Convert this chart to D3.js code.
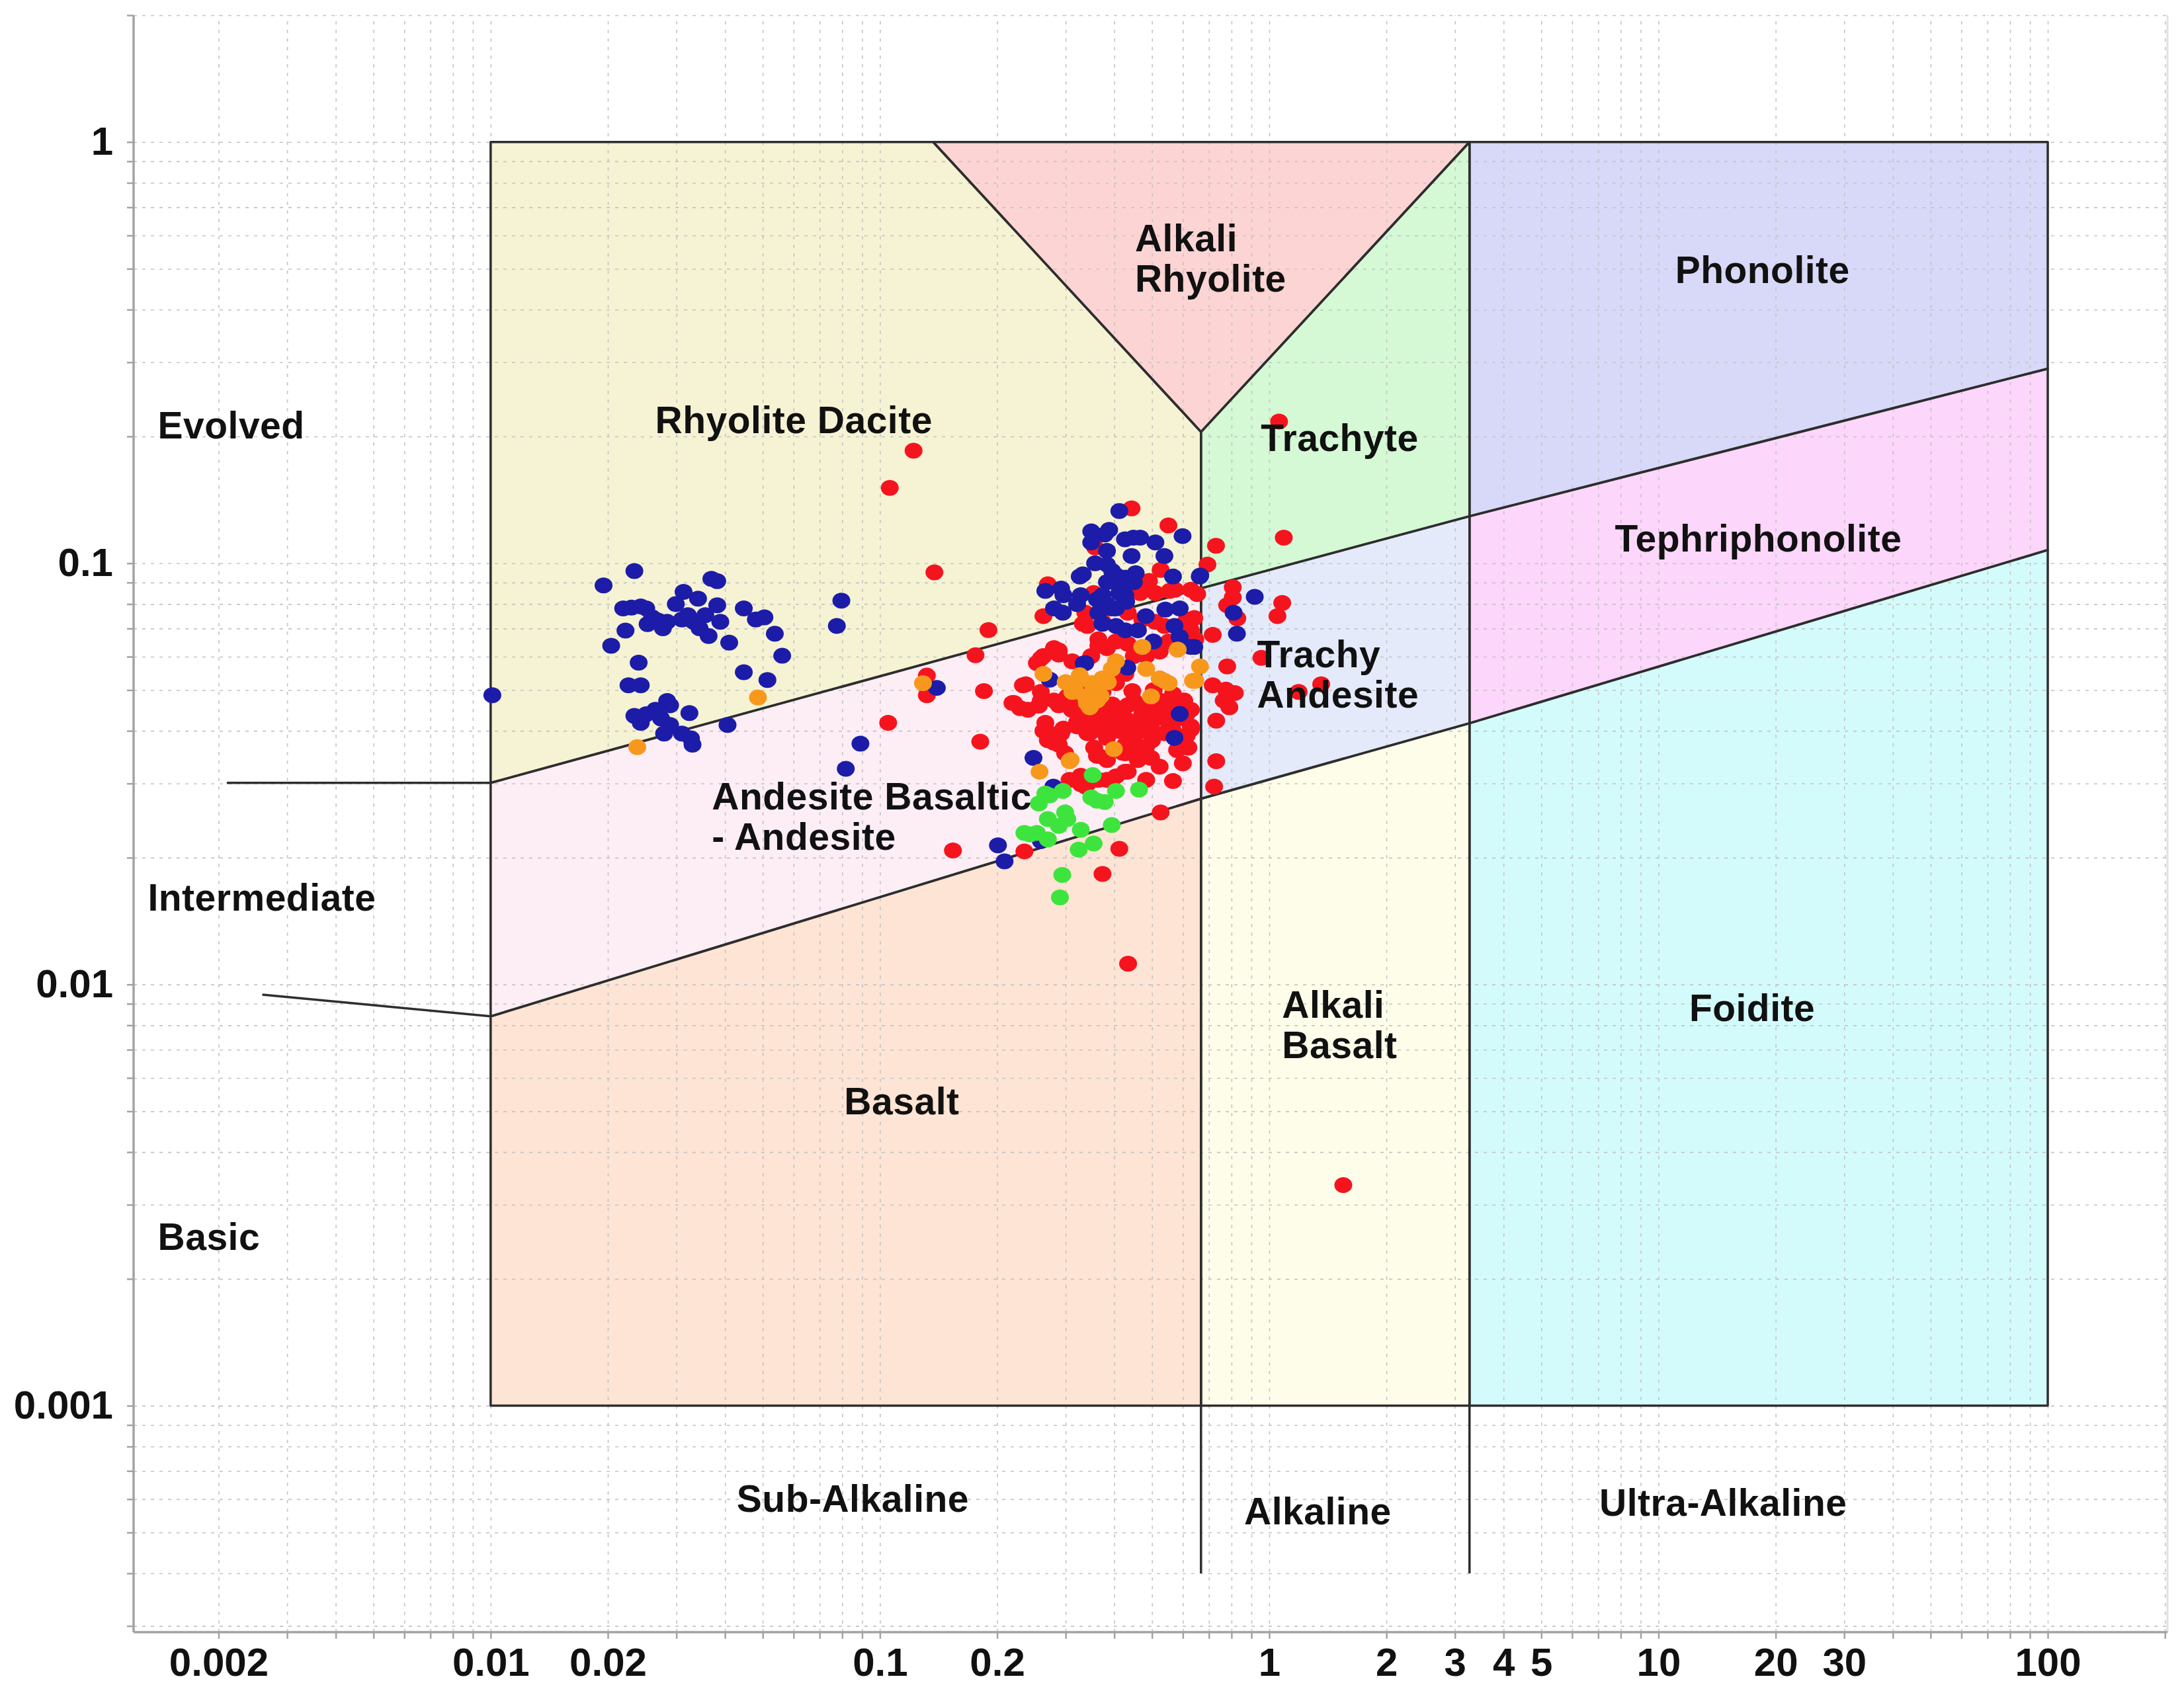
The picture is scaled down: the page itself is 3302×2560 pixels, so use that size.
<!DOCTYPE html>
<html lang="en">
<head>
    <meta charset="UTF-8">
    <title>Nb/Y vs Zr/Ti - Pearce (1996)</title>
    <script src="https://d3js.org/d3.v7.min.js"></script>
    <style>
        body { margin: 0; background: #fff; }
        text { font-family: "Liberation Sans", Arial, sans-serif; fill: #111; }
        .tick-label text { font-size: 60px; font-weight: bold; }
        .field-label { font-size: 57px; font-weight: bold; letter-spacing: 0.5px; }
        .grid line { stroke: #c4c4c4; stroke-width: 1.6; stroke-dasharray: 5 8; }
        .grid .domain { display: none; }
        .axis .domain { stroke: #a3a3a3; stroke-width: 3.5; }
        .axis .tick line { stroke: #a3a3a3; stroke-width: 2.5; }
    </style>
</head>
<body>
<div id="chart"></div>
<script>
    // tick labels shown on the axes
    const xTickLabels = [0.002, 0.01, 0.02, 0.1, 0.2, 1, 2, 3, 4, 5, 10, 20, 30, 100];
    const yTickLabels = [0.001, 0.01, 0.1, 1];

    // boundary lines of the classification fields (Nb/Y, Zr/Ti)
    const upperLine = [[0.01, 0.0301], [0.668, 0.0872], [3.27, 0.1293], [100, 0.2896]];
    const lowerLine = [[0.01, 0.0084], [0.668, 0.0276], [3.27, 0.0417], [100, 0.1075]];
    const apex = [0.668, 0.205];

    // field polygons
    const fields = [
        { name: "Rhyolite Dacite", color: "#f5f3d3", pts: [[0.01, 1], [0.137, 1], apex, upperLine[1], upperLine[0]] },
        { name: "Alkali Rhyolite", color: "#fdd4d4", pts: [[0.137, 1], [3.27, 1], apex] },
        { name: "Trachyte", color: "#d5f8d5", pts: [apex, [3.27, 1], upperLine[2], upperLine[1]] },
        { name: "Phonolite", color: "#d8d8f9", pts: [[3.27, 1], [100, 1], upperLine[3], upperLine[2]] },
        { name: "Andesite", color: "#fdedf5", pts: [upperLine[0], upperLine[1], lowerLine[1], lowerLine[0]] },
        { name: "Trachy Andesite", color: "#e4eafa", pts: [upperLine[1], upperLine[2], lowerLine[2], lowerLine[1]] },
        { name: "Tephriphonolite", color: "#fdd6fb", pts: [upperLine[2], upperLine[3], lowerLine[3], lowerLine[2]] },
        { name: "Basalt", color: "#fde4d4", pts: [lowerLine[0], lowerLine[1], [0.668, 0.001], [0.01, 0.001]] },
        { name: "Alkali Basalt", color: "#fdfdea", pts: [lowerLine[1], lowerLine[2], [3.27, 0.001], [0.668, 0.001]] },
        { name: "Foidite", color: "#d4fbfb", pts: [lowerLine[2], lowerLine[3], [100, 0.001], [3.27, 0.001]] }
    ];

    // extra lines outside the box
    const extraLines = [
        [[0.668, 0.001], [0.668, 0.0004]],
        [[3.27, 0.001], [3.27, 0.0004]],
        [[0.0021, 0.0301], [0.01, 0.0301]],
        [[0.00259, 0.00946], [0.01, 0.0084]]
    ];

    // samples: [Nb/Y, Zr/Ti]
    const redPts = [
        [0.122, 0.185], [0.106, 0.151], [0.138, 0.0951], [1.06, 0.217], [1.09, 0.115], [1.55, 0.00334], [0.434, 0.0112], [0.105, 0.0418],
        [0.190, 0.0694], [0.176, 0.0605], [0.132, 0.0541], [0.132, 0.0486], [0.185, 0.0497], [0.237, 0.0516], [0.181, 0.0377], [0.154, 0.0208],
        [0.235, 0.0207], [0.373, 0.0183], [0.412, 0.0210], [0.526, 0.0256], [0.600, 0.0335], [0.731, 0.0339], [0.722, 0.0295], [0.731, 0.0423],
        [0.566, 0.0304], [0.483, 0.0306], [0.426, 0.0320], [0.383, 0.0306], [0.337, 0.0295], [0.307, 0.0306], [0.292, 0.0394], [0.288, 0.0371],
        [0.365, 0.0349], [0.730, 0.110], [0.694, 0.0993], [0.806, 0.0877], [0.806, 0.0829], [0.780, 0.0795], [1.08, 0.0805], [1.05, 0.0749],
        [0.828, 0.0740], [0.716, 0.0676], [0.955, 0.0596], [0.780, 0.0569], [1.36, 0.0516], [1.19, 0.0495], [0.716, 0.0513], [0.774, 0.0501],
        [0.816, 0.0492], [0.764, 0.0472], [0.790, 0.0455], [0.642, 0.0741], [0.653, 0.0845], [0.443, 0.135], [0.551, 0.123], [0.357, 0.109],
        [0.526, 0.0964], [0.491, 0.0908], [0.270, 0.0891], [0.354, 0.0850], [0.263, 0.0749], [0.466, 0.0850], [0.510, 0.0850], [0.555, 0.0860],
        [0.573, 0.0865], [0.629, 0.0865], [0.337, 0.0763], [0.341, 0.0710], [0.364, 0.0660], [0.383, 0.0629], [0.433, 0.0763], [0.472, 0.0735],
        [0.510, 0.0726], [0.538, 0.0710], [0.614, 0.0735], [0.629, 0.0693], [0.433, 0.0644], [0.404, 0.0652], [0.449, 0.0602], [0.483, 0.0602],
        [0.523, 0.0617], [0.552, 0.0652], [0.614, 0.0644], [0.646, 0.0660], [0.288, 0.0607], [0.263, 0.0602], [0.253, 0.0579], [0.233, 0.0513],
        [0.219, 0.0466], [0.229, 0.0453], [0.256, 0.0459], [0.280, 0.0472], [0.303, 0.0483], [0.324, 0.0519], [0.337, 0.0506], [0.350, 0.0472],
        [0.373, 0.0495], [0.404, 0.0519], [0.427, 0.0546],
        [0.328, 0.0434], [0.354, 0.0424], [0.383, 0.0449], [0.412, 0.0449], [0.449, 0.0472], [0.483, 0.0460], [0.523, 0.0472], [0.566, 0.0489],
        [0.605, 0.0472], [0.629, 0.0449], [0.600, 0.0429], [0.552, 0.0418], [0.510, 0.0429], [0.472, 0.0439], [0.433, 0.0424], [0.404, 0.0418],
        [0.373, 0.0400], [0.346, 0.0395], [0.321, 0.0410], [0.296, 0.0405], [0.273, 0.0395], [0.266, 0.0418], [0.430, 0.0400], [0.483, 0.0400],
        [0.566, 0.0400], [0.614, 0.0390], [0.629, 0.0403], [0.307, 0.0466], [0.337, 0.0444], [0.364, 0.0429], [0.404, 0.0439], [0.433, 0.0460],
        [0.483, 0.0449], [0.523, 0.0460], [0.566, 0.0466], [0.614, 0.0439], [0.629, 0.0410], [0.600, 0.0385], [0.538, 0.0395], [0.497, 0.0410],
        [0.454, 0.0395], [0.412, 0.0400], [0.383, 0.0385], [0.341, 0.0395], [0.321, 0.0419], [0.288, 0.0460], [0.259, 0.0472], [0.221, 0.0466],
        [0.263, 0.0400], [0.280, 0.0375], [0.299, 0.0354], [0.361, 0.0349], [0.383, 0.0341], [0.427, 0.0354], [0.460, 0.0341], [0.497, 0.0345],
        [0.523, 0.0329], [0.433, 0.0320], [0.404, 0.0312], [0.364, 0.0306], [0.328, 0.0299], [0.449, 0.0381], [0.483, 0.0367], [0.427, 0.0371],
        [0.566, 0.0419], [0.240, 0.0449], [0.259, 0.0495], [0.288, 0.0621], [0.312, 0.0585], [0.349, 0.0602], [0.364, 0.0637], [0.259, 0.0594],
        [0.280, 0.0629], [0.332, 0.0718], [0.373, 0.0726], [0.270, 0.0380], [0.328, 0.0313], [0.341, 0.0299], [0.311, 0.0449], [0.324, 0.0410],
        [0.390, 0.0425], [0.460, 0.0415], [0.540, 0.0435], [0.500, 0.0380], [0.420, 0.0355], [0.580, 0.0360], [0.470, 0.0455], [0.360, 0.0410],
        [0.550, 0.0450], [0.620, 0.0365], [0.395, 0.0462], [0.445, 0.0497], [0.505, 0.0500], [0.355, 0.0365], [0.455, 0.0365]
    ];

    const bluePts = [
        [0.0234, 0.0958], [0.0195, 0.0886], [0.0369, 0.0918], [0.0382, 0.0907], [0.0313, 0.0855], [0.0219, 0.0781], [0.0230, 0.0785], [0.0243, 0.0790],
        [0.0251, 0.0781], [0.0299, 0.0800], [0.0341, 0.0824], [0.0382, 0.0795], [0.0260, 0.0744], [0.0269, 0.0731], [0.0284, 0.0726], [0.0277, 0.0701],
        [0.0253, 0.0717], [0.0321, 0.0753], [0.0332, 0.0726], [0.0344, 0.0701], [0.0363, 0.0672], [0.0310, 0.0735], [0.0356, 0.0753], [0.0389, 0.0726],
        [0.0447, 0.0781], [0.0480, 0.0735], [0.0505, 0.0744], [0.0222, 0.0692], [0.0204, 0.0637], [0.0410, 0.0648], [0.0537, 0.0680], [0.0561, 0.0603],
        [0.0240, 0.0581], [0.0447, 0.0551], [0.0514, 0.0528], [0.0226, 0.0513], [0.0243, 0.0513], [0.0101, 0.0486], [0.0284, 0.0471], [0.0289, 0.0460],
        [0.0265, 0.0449], [0.0251, 0.0438], [0.0234, 0.0434], [0.0243, 0.0418], [0.0274, 0.0428], [0.0289, 0.0413], [0.0279, 0.0394], [0.0324, 0.0441],
        [0.0327, 0.0384], [0.0330, 0.0371], [0.0310, 0.0394], [0.0406, 0.0413], [0.0796, 0.0815], [0.0775, 0.0710], [0.0891, 0.0373], [0.0817, 0.0325],
        [0.140, 0.0506], [0.248, 0.0345], [0.279, 0.0295], [0.201, 0.0214], [0.209, 0.0196], [0.273, 0.0529], [0.334, 0.0578], [0.259, 0.0219],
        [0.665, 0.0935], [0.918, 0.0832], [0.810, 0.0763], [0.826, 0.0680], [0.642, 0.0633],
        [0.412, 0.133], [0.599, 0.116], [0.349, 0.119], [0.388, 0.120], [0.378, 0.117], [0.426, 0.114], [0.448, 0.115], [0.466, 0.115],
        [0.510, 0.112], [0.349, 0.112], [0.383, 0.107], [0.443, 0.104], [0.538, 0.104], [0.357, 0.100], [0.332, 0.0941], [0.326, 0.0930],
        [0.383, 0.0993], [0.395, 0.0958], [0.405, 0.0935], [0.427, 0.0924], [0.449, 0.0902], [0.412, 0.0881], [0.383, 0.0902], [0.454, 0.0947],
        [0.566, 0.0930], [0.266, 0.0860], [0.292, 0.0871], [0.296, 0.0840], [0.328, 0.0840], [0.321, 0.0800], [0.280, 0.0781], [0.295, 0.0763],
        [0.361, 0.0820], [0.383, 0.0800], [0.412, 0.0850], [0.429, 0.0810], [0.404, 0.0781], [0.663, 0.0930], [0.373, 0.0840], [0.427, 0.0840],
        [0.394, 0.0781], [0.364, 0.0763],
        [0.373, 0.0718], [0.404, 0.0710], [0.427, 0.0693], [0.460, 0.0693], [0.482, 0.0749], [0.541, 0.0776], [0.589, 0.0781], [0.571, 0.0710],
        [0.589, 0.0668], [0.629, 0.0633], [0.504, 0.0652], [0.337, 0.0579], [0.589, 0.0439], [0.571, 0.0385], [0.432, 0.0565]
    ];

    const orangePts = [
        [0.0486, 0.0480], [0.0238, 0.0366], [0.129, 0.0519], [0.257, 0.0320], [0.263, 0.0546], [0.309, 0.0341], [0.472, 0.0633], [0.582, 0.0624],
        [0.664, 0.0569], [0.637, 0.0526], [0.328, 0.0533], [0.350, 0.0519], [0.373, 0.0533], [0.312, 0.0495], [0.337, 0.0483], [0.364, 0.0489],
        [0.394, 0.0561], [0.404, 0.0585], [0.483, 0.0561], [0.523, 0.0533], [0.552, 0.0519], [0.497, 0.0483], [0.346, 0.0455], [0.361, 0.0472],
        [0.316, 0.0506], [0.538, 0.0526], [0.646, 0.0526], [0.399, 0.0362], [0.307, 0.0339],
        [0.326, 0.0542], [0.369, 0.0484], [0.300, 0.0522], [0.385, 0.0522], [0.340, 0.0466], [0.355, 0.0505]
    ];

    const greenPts = [
        [0.352, 0.0314], [0.404, 0.0288], [0.463, 0.0290], [0.361, 0.0273], [0.378, 0.0271], [0.394, 0.0239], [0.354, 0.0216], [0.324, 0.0209],
        [0.294, 0.0182], [0.290, 0.0161], [0.270, 0.0247], [0.243, 0.0227], [0.256, 0.0269], [0.295, 0.0288], [0.299, 0.0256], [0.273, 0.0281],
        [0.266, 0.0284], [0.303, 0.0247], [0.288, 0.0238], [0.253, 0.0229], [0.270, 0.0221], [0.328, 0.0233], [0.235, 0.0229], [0.349, 0.0278]
    ];

    // text annotations, anchored in data units
    const labels = [
        { t: "Alkali", x: 0.452, y: 0.593, a: "start" },
        { t: "Rhyolite", x: 0.452, y: 0.476, a: "start" },
        { t: "Phonolite", x: 18.5, y: 0.499, a: "middle" },
        { t: "Rhyolite Dacite", x: 0.0601, y: 0.219, a: "middle" },
        { t: "Trachyte", x: 0.952, y: 0.1987, a: "start" },
        { t: "Tephriphonolite", x: 18.05, y: 0.1147, a: "middle" },
        { t: "Trachy", x: 0.930, y: 0.061, a: "start" },
        { t: "Andesite", x: 0.930, y: 0.0489, a: "start" },
        { t: "Andesite Basaltic", x: 0.0370, y: 0.0280, a: "start" },
        { t: "- Andesite", x: 0.0370, y: 0.0225, a: "start" },
        { t: "Evolved", x: 0.001396, y: 0.2127, a: "start" },
        { t: "Intermediate", x: 0.001316, y: 0.01613, a: "start" },
        { t: "Basic", x: 0.001396, y: 0.00252, a: "start" },
        { t: "Alkali", x: 1.079, y: 0.00899, a: "start" },
        { t: "Basalt", x: 1.079, y: 0.00719, a: "start" },
        { t: "Foidite", x: 17.4, y: 0.00883, a: "middle" },
        { t: "Basalt", x: 0.1138, y: 0.0053, a: "middle" },
        { t: "Sub-Alkaline", x: 0.0852, y: 0.000603, a: "middle" },
        { t: "Alkaline", x: 1.333, y: 0.000563, a: "middle" },
        { t: "Ultra-Alkaline", x: 14.66, y: 0.00059, a: "middle" }
    ];

    const W = 3302, H = 2560;
    const mLeft = 202, mRight = 3277, mTop = 23, mBottom = 2468;

    const svg = d3.select("#chart").append("svg")
        .attr("width", W).attr("height", H);

    const x = d3.scaleLog().domain([0.00121, 203]).range([mLeft, mRight]);
    const y = d3.scaleLog().domain([0.00029, 2]).range([mBottom, mTop]);

    const line = d3.line().x(d => x(d[0])).y(d => y(d[1]));

    // field fills
    svg.append("g").selectAll("path")
        .data(fields)
        .enter().append("path")
        .attr("d", d => line(d.pts) + "Z")
        .attr("fill", d => d.color);

    // dashed grid on every minor tick
    svg.append("g").attr("class", "grid")
        .attr("transform", `translate(0,${mBottom})`)
        .call(d3.axisBottom(x).tickValues(x.ticks()).tickSize(-(mBottom - mTop)).tickFormat(""));
    svg.append("g").attr("class", "grid")
        .attr("transform", `translate(${mLeft},0)`)
        .call(d3.axisLeft(y).tickValues(y.ticks()).tickSize(-(mRight - mLeft)).tickFormat(""));

    // faint right edge
    svg.append("line")
        .attr("x1", mRight).attr("x2", mRight).attr("y1", mTop).attr("y2", mBottom)
        .attr("stroke", "#e2e2e2").attr("stroke-width", 3);

    // field borders
    svg.append("g").selectAll("path")
        .data(fields)
        .enter().append("path")
        .attr("d", d => line(d.pts) + "Z")
        .attr("fill", "none")
        .attr("stroke", "#2e2e2e")
        .attr("stroke-width", 3.5)
        .attr("stroke-linejoin", "round");

    svg.append("g").selectAll("path")
        .data(extraLines)
        .enter().append("path")
        .attr("d", line)
        .attr("fill", "none")
        .attr("stroke", "#2e2e2e")
        .attr("stroke-width", 3.5);

    // axes
    const isLabel = (list, d) => list.some(v => Math.abs(v - d) / v < 1e-6);

    const xAxis = d3.axisBottom(x)
        .tickValues(x.ticks())
        .tickSize(10).tickSizeOuter(0).tickPadding(13)
        .tickFormat(d => isLabel(xTickLabels, d) ? String(d) : "");
    const gx = svg.append("g").attr("class", "axis tick-label")
        .attr("transform", `translate(0,${mBottom})`)
        .call(xAxis);
    gx.select(".domain").attr("d", `M${mLeft},0H${mRight}`);

    const yAxis = d3.axisLeft(y)
        .tickValues(y.ticks())
        .tickSize(10).tickSizeOuter(0).tickPadding(21)
        .tickFormat(d => isLabel(yTickLabels, d) ? String(d) : "");
    const gy = svg.append("g").attr("class", "axis tick-label")
        .attr("transform", `translate(${mLeft},0)`)
        .call(yAxis);
    gy.select(".domain").attr("d", `M0,${mTop}V${mBottom}`);

    // samples
    const series = [
        { pts: redPts, color: "#f5141e" },
        { pts: bluePts, color: "#1c1ca8" },
        { pts: orangePts, color: "#f7981c" },
        { pts: greenPts, color: "#3ee43e" }
    ];
    series.forEach(s => {
        svg.append("g").selectAll("ellipse")
            .data(s.pts)
            .enter().append("ellipse")
            .attr("cx", d => x(d[0]))
            .attr("cy", d => y(d[1]))
            .attr("rx", 13.5)
            .attr("ry", 12)
            .attr("fill", s.color);
    });

    // labels
    svg.append("g").selectAll("text")
        .data(labels)
        .enter().append("text")
        .attr("class", "field-label")
        .attr("x", d => x(d.x))
        .attr("y", d => y(d.y))
        .attr("dy", "0.36em")
        .attr("text-anchor", d => d.a)
        .text(d => d.t);
</script>
</body>
</html>
